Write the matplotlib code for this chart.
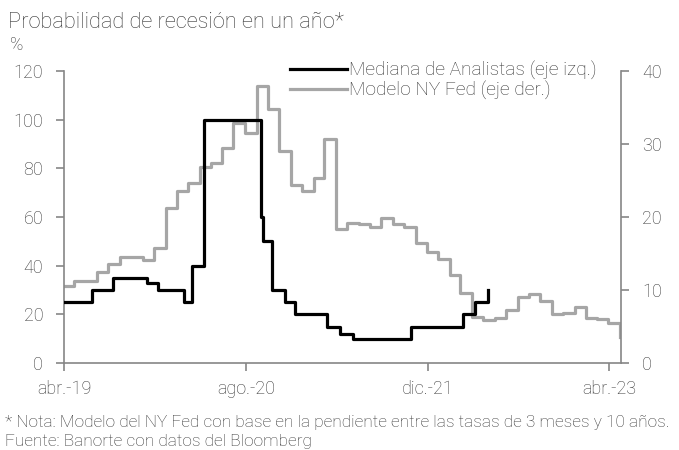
import matplotlib
matplotlib.use("Agg")
import matplotlib.pyplot as plt
import pandas as pd

plt.rcParams['font.family'] = ['Roboto', 'DejaVu Sans']
plt.rcParams['font.weight'] = 'light'

# Mediana de Analistas (eje izq.) - step changes
analyst_dates = ["2019-04-01", "2019-06-15", "2019-08-10", "2019-11-09", "2019-12-10",
                 "2020-02-16", "2020-03-10", "2020-04-09", "2020-09-09", "2020-09-14",
                 "2020-10-08", "2020-11-12", "2020-12-11", "2021-03-05", "2021-04-09",
                 "2021-05-14", "2021-10-16", "2022-03-06", "2022-04-07", "2022-05-12"]
analyst_values = [25, 30, 35, 33, 30, 25, 40, 100, 60, 50, 30, 25, 20, 15, 12, 10, 15, 20, 25, 30]

# Modelo NY Fed (eje der.) - monthly values starting Apr-2019
nyfed_start = "2019-04-01"
nyfed_values = [10.6, 11.2, 11.2, 12.4, 13.6, 14.5, 14.5, 14.1, 15.7, 21.3,
                23.5, 24.6, 26.8, 27.4, 29.5, 32.9, 31.5, 38.0, 34.8, 29.1,
                24.4, 23.6, 25.3, 30.7, 18.4, 19.2, 19.1, 18.6, 19.9, 19.0,
                18.6, 16.5, 15.2, 14.3, 12.0, 9.6, 6.3, 5.9, 6.1, 7.2,
                9.0, 9.4, 8.5, 6.7, 6.8, 7.7, 6.2, 6.0, 5.5, 3.6]

tick_dates = ["2019-04-01", "2020-08-01", "2021-12-01", "2023-04-01"]
tick_labels = ["abr.-19", "ago.-20", "dic.-21", "abr.-23"]
left_ticks = [0, 20, 40, 60, 80, 100, 120]
right_ticks = [0, 10, 20, 30, 40]

title = "Probabilidad de recesión en un año*"
note1 = "* Nota: Modelo del NY Fed con base en la pendiente entre las tasas de 3 meses y 10 años."
note2 = "Fuente: Banorte con datos del Bloomberg"

txt = "#363636"
spine_c = "#868686"

a_dates = pd.to_datetime(analyst_dates)
n_dates = pd.date_range(nyfed_start, periods=len(nyfed_values), freq="MS") - pd.Timedelta(days=3)

fig = plt.figure(figsize=(6.79, 4.5), dpi=100)
ax = fig.add_axes([64/679, 1-363/450, (621-64)/679, (363-71)/450])
ax2 = ax.twinx()

ax.step(a_dates, analyst_values, where="post", color="black", lw=2.3,
        label="Mediana de Analistas (eje izq.)", zorder=3)
ax2.step(n_dates, nyfed_values, where="post", color="#A6A6A6", lw=2.3,
         label="Modelo NY Fed (eje der.)", zorder=2)
ax.set_zorder(ax2.get_zorder() + 1)
ax.patch.set_visible(False)

ax.set_xlim(pd.Timestamp("2019-04-01"), pd.Timestamp("2023-05-02"))
ax.set_ylim(0, 120)
ax2.set_ylim(0, 40)
ax.set_yticks(left_ticks)
ax2.set_yticks(right_ticks)
ax.set_xticks(pd.to_datetime(tick_dates))
ax.set_xticklabels(tick_labels)

for a in (ax, ax2):
    a.spines["top"].set_visible(False)
    for s in a.spines.values():
        s.set_color(spine_c)
        s.set_linewidth(1.2)
    a.tick_params(colors=spine_c, labelcolor=txt, labelsize=13, length=6, width=1.2, direction="out")
ax.spines["right"].set_visible(False)
ax2.spines["left"].set_visible(False)
ax2.spines["bottom"].set_visible(False)
ax.tick_params(axis="x", pad=6)
ax.tick_params(axis="y", pad=9)
ax2.tick_params(axis="y", pad=9)

h1, l1 = ax.get_legend_handles_labels()
h2, l2 = ax2.get_legend_handles_labels()
leg = ax.legend(h1 + h2, l1 + l2, loc="upper left", bbox_to_anchor=((282-64)/557, 1.06),
                frameon=False, fontsize=13.8, handlelength=3.0, handletextpad=0.1,
                labelspacing=0.02, borderaxespad=0, labelcolor=txt)

fig.text(8/679, 1-28/450, title, fontsize=15.7, color=txt, va="baseline")
fig.text(10/679, 1-50/450, "%", fontsize=13, color=txt, va="baseline")
fig.text(5/679, 1-427/450, note1, fontsize=12.4, color=txt, va="baseline")
fig.text(5/679, 1-446/450, note2, fontsize=12.4, color=txt, va="baseline")

fig.savefig("out.png", dpi=100)
